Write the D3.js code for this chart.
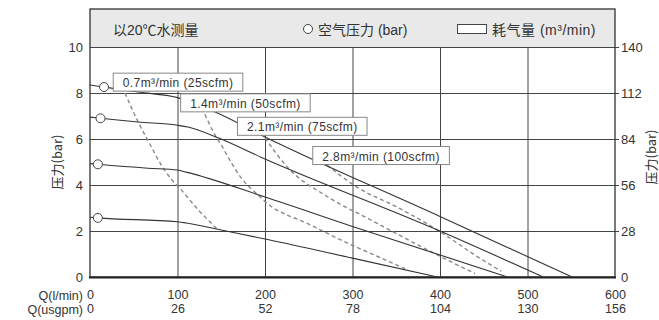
<!DOCTYPE html>
<html>
<head>
<meta charset="utf-8">
<script src="https://cdn.jsdelivr.net/npm/d3@7"></script>
<style>
  body { margin: 0; background: #fff; }
  svg { display: block; font-family: "Liberation Sans", Arial, "Noto Sans CJK SC", sans-serif; }
</style>
</head>
<body>
<script>
// flow ticks (l/min) and matching usgpm labels
const flowTicks = [0, 100, 200, 300, 400, 500, 600];
const usgpmLabels = ["0", "26", "52", "78", "104", "130", "156"];
const barTicks = [0, 2, 4, 6, 8, 10];
const rightTicks = [0, 28, 56, 84, 112, 140];

// pressure curves (solid), Q in l/min, P in bar
const curveAQ = [0, 16, 55, 100, 143, 200, 400, 551];
const curveAP = [8.35, 8.26, 8.04, 7.8, 7.17, 6.09, 2.63, 0];
const curveBQ = [0, 13, 55, 100, 112, 147, 196, 400, 518];
const curveBP = [6.95, 6.9, 6.74, 6.6, 6.52, 6.04, 5.2, 2.0, 0];
const curveCQ = [0, 9, 66, 100, 110, 200, 300, 477];
const curveCP = [4.93, 4.9, 4.73, 4.65, 4.56, 3.48, 2.2, 0];
const curveDQ = [0, 9, 100, 110, 150, 203, 300, 397];
const curveDP = [2.6, 2.57, 2.4, 2.35, 2.04, 1.63, 0.82, 0];

// air consumption curves (dashed)
const d07Q = [40, 55, 69, 81, 93, 104, 123, 145];
const d07P = [8.0, 6.74, 5.74, 4.9, 4.25, 3.8, 2.95, 2.1];
const d14Q = [128, 143, 150, 161, 173, 192, 202, 250, 294, 330, 360];
const d14P = [7.35, 6.17, 5.74, 5.0, 4.3, 3.57, 3.22, 2.3, 1.48, 0.87, 0.36];
const d21Q = [200, 225, 271, 320, 400, 440];
const d21P = [6.05, 4.8, 3.5, 2.5, 0.9, 0.15];
const d28Q = [271, 305, 351, 403, 440, 470];
const d28P = [4.86, 3.91, 3.04, 1.9, 0.95, 0.25];

// circles = air inlet pressure
const circleQ = [16, 12, 9, 9];
const circleP = [8.26, 6.9, 4.9, 2.57];

const airLabels = ["0.7m³/min (25scfm)", "1.4m³/min (50scfm)", "2.1m³/min (75scfm)", "2.8m³/min (100scfm)"];
const airLabelQ = [26, 103, 168, 254];
const airLabelP = [8.45, 7.55, 6.53, 5.26];

const W = 659, H = 320;
const svg = d3.select("body").append("svg").attr("width", W).attr("height", H);

const mLeft = 90, mRight = 615, mTop = 9, plotTop = 47, mBottom = 277;
const x = d3.scaleLinear().domain([0, 600]).range([mLeft, mRight]);
const y = d3.scaleLinear().domain([0, 10]).range([mBottom, plotTop]);
const yR = d3.scaleLinear().domain([0, 140]).range([mBottom, plotTop]);

// header band
svg.append("rect").attr("x", mLeft).attr("y", mTop).attr("width", mRight - mLeft).attr("height", plotTop - mTop)
  .attr("fill", "#e9e9e9");

// grid
const grid = svg.append("g").attr("stroke", "#444").attr("stroke-width", 1);
grid.selectAll("line.v").data(flowTicks.slice(1, -1)).enter().append("line")
  .attr("x1", d => x(d) + 0.5).attr("x2", d => x(d) + 0.5).attr("y1", plotTop).attr("y2", mBottom);
grid.selectAll("line.h").data(barTicks.slice(1)).enter().append("line")
  .attr("x1", mLeft).attr("x2", mRight + 4).attr("y1", d => Math.round(y(d)) + 0.5).attr("y2", d => Math.round(y(d)) + 0.5);

// frame
svg.append("rect").attr("x", mLeft).attr("y", mTop).attr("width", mRight - mLeft).attr("height", mBottom - mTop)
  .attr("fill", "none").attr("stroke", "#333").attr("stroke-width", 1.3);
svg.append("line").attr("x1", mLeft - 1).attr("x2", mRight + 1).attr("y1", mBottom + 0.5).attr("y2", mBottom + 0.5)
  .attr("stroke", "#222").attr("stroke-width", 2);

// axes
const axisL = svg.append("g").attr("transform", `translate(${mLeft},0)`)
  .call(d3.axisLeft(y).tickValues(barTicks).tickSize(0).tickPadding(7));
const axisR = svg.append("g").attr("transform", `translate(${mRight},0)`)
  .call(d3.axisRight(yR).tickValues(rightTicks).tickSize(0).tickPadding(6));
const axisB1 = svg.append("g").attr("transform", `translate(0,${mBottom})`)
  .call(d3.axisBottom(x).tickValues(flowTicks).tickSize(0).tickPadding(13));
const axisB2 = svg.append("g").attr("transform", `translate(0,${mBottom + 14})`)
  .call(d3.axisBottom(x).tickValues(flowTicks).tickSize(0).tickPadding(13).tickFormat((d, i) => usgpmLabels[i]));
[axisL, axisR].forEach(g => {
  g.select(".domain").remove();
  g.selectAll("text").attr("font-size", 13).attr("fill", "#333")
    .attr("font-family", "'Liberation Sans', Arial, sans-serif");
});
[axisB1, axisB2].forEach(g => {
  g.select(".domain").remove();
  g.selectAll("text").attr("font-size", 12.5).attr("fill", "#333")
    .attr("font-family", "'Liberation Sans', Arial, sans-serif");
});

svg.append("text").attr("x", 83).attr("y", 299.5).attr("text-anchor", "end")
  .attr("font-size", 12.5).attr("fill", "#333").text("Q(l/min)");
svg.append("text").attr("x", 83).attr("y", 313.5).attr("text-anchor", "end")
  .attr("font-size", 12.5).attr("fill", "#333").text("Q(usgpm)");

svg.append("text").attr("transform", "translate(62,162) rotate(-90)").attr("text-anchor", "middle")
  .attr("font-size", 13).attr("fill", "#333").attr("font-family", "'Noto Sans CJK SC', 'Liberation Sans', sans-serif")
  .text("压力(bar)");
svg.append("text").attr("transform", "translate(656,157) rotate(-90)").attr("text-anchor", "middle")
  .attr("font-size", 13).attr("fill", "#333").attr("font-family", "'Noto Sans CJK SC', 'Liberation Sans', sans-serif")
  .text("压力(bar)");

// curves
const line = d3.line().x(d => x(d[0])).y(d => y(d[1])).curve(d3.curveMonotoneX);
const zip = (q, p) => q.map((v, i) => [v, p[i]]);

const solid = [zip(curveAQ, curveAP), zip(curveBQ, curveBP), zip(curveCQ, curveCP), zip(curveDQ, curveDP)];
const dashed = [zip(d07Q, d07P), zip(d14Q, d14P), zip(d21Q, d21P), zip(d28Q, d28P)];

svg.append("g").selectAll("path").data(dashed).enter().append("path")
  .attr("d", line).attr("fill", "none").attr("stroke", "#888").attr("stroke-width", 1.4)
  .attr("stroke-dasharray", "4,3");
svg.append("g").selectAll("path").data(solid).enter().append("path")
  .attr("d", line).attr("fill", "none").attr("stroke", "#333").attr("stroke-width", 1.1);

svg.append("g").selectAll("circle").data(circleQ).enter().append("circle")
  .attr("cx", d => x(d)).attr("cy", (d, i) => y(circleP[i])).attr("r", 4.5)
  .attr("fill", "#fff").attr("stroke", "#444").attr("stroke-width", 1);

// air consumption labels
const lab = svg.append("g").selectAll("g").data(airLabels).enter().append("g")
  .attr("transform", (d, i) => `translate(${x(airLabelQ[i])},${y(airLabelP[i])})`);
lab.append("text").attr("x", 10).attr("y", 4.5).attr("font-size", 12).attr("fill", "#333")
  .attr("letter-spacing", 0.4)
  .attr("font-family", "'Liberation Sans', Arial, sans-serif").text(d => d);
lab.each(function () {
  const g = d3.select(this);
  const bb = g.select("text").node().getBBox();
  g.insert("rect", "text").attr("x", 0.5).attr("y", -9.5).attr("width", bb.width + 19).attr("height", 18)
    .attr("fill", "#fff").attr("stroke", "#888").attr("stroke-width", 1);
});

// header texts
const hdr = svg.append("g").attr("font-size", 14).attr("fill", "#333")
  .attr("font-family", "'Liberation Sans', 'Noto Sans CJK SC', sans-serif");
hdr.append("text").attr("x", 113).attr("y", 34.5).text("以20℃水测量");
hdr.append("circle").attr("cx", 308).attr("cy", 29).attr("r", 4.5).attr("fill", "#fff").attr("stroke", "#444");
hdr.append("text").attr("x", 318).attr("y", 34.5).text("空气压力 (bar)");
hdr.append("rect").attr("x", 457.5).attr("y", 24.5).attr("width", 29).attr("height", 9)
  .attr("fill", "#fff").attr("stroke", "#444");
hdr.append("text").attr("x", 492).attr("y", 34.5).attr("letter-spacing", 0.5).text("耗气量 (m³/min)");
</script>
</body>
</html>
